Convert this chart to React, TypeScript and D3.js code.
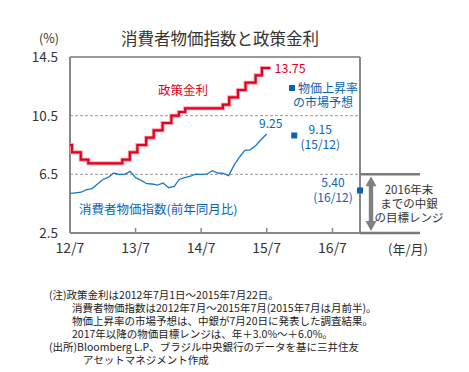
import React from "react";
import * as d3 from "d3";

const policyDates = ["2012-07-01","2012-07-12","2012-08-30","2012-10-11","2013-04-18","2013-05-30","2013-07-11","2013-08-29","2013-10-10","2013-11-28","2014-01-16","2014-02-27","2014-04-03","2014-10-30","2014-12-04","2015-01-22","2015-03-05","2015-04-30","2015-06-04","2015-07-22"];
const policyRates = [8.5,8.0,7.5,7.25,7.5,8.0,8.5,9.0,9.5,10.0,10.5,10.75,11.0,11.25,11.75,12.25,12.75,13.25,13.75,13.75];

const cpiStart = "2012-07-01";
const cpiValues = [5.20,5.24,5.28,5.45,5.53,5.84,6.15,6.31,6.59,6.49,6.50,6.70,6.27,6.09,5.86,5.84,5.77,5.91,5.59,5.68,6.15,6.28,6.37,6.52,6.50,6.51,6.75,6.59,6.56,6.41,7.14,7.70,8.13,8.17,8.47,8.89,9.25];

const forecastDates = ["2015-12-01","2016-12-01"];
const forecastValues = [9.15,5.40];
const forecastLabels = ["(15/12)","(16/12)"];

const yTicks = [2.5,6.5,10.5,14.5];
const xTickDates = ["2012-07-01","2013-07-01","2014-07-01","2015-07-01","2016-07-01"];
const xTickLabels = ["12/7","13/7","14/7","15/7","16/7"];
const targetRange = [2.5,6.5];

const notes = [
  "(注)政策金利は2012年7月1日～2015年7月22日。",
  "消費者物価指数は2012年7月～2015年7月(2015年7月は月前半)。",
  "物価上昇率の市場予想は、中銀が7月20日に発表した調査結果。",
  "2017年以降の物価目標レンジは、年＋3.0%～＋6.0%。",
  "(出所)Bloomberg L.P、ブラジル中央銀行のデータを基に三井住友",
  "アセットマネジメント作成",
];

const FONT = "'Noto Sans CJK JP', 'Noto Sans', sans-serif";
const RED = "#e60020";
const BLUE = "#1a78c8";
const DBLUE = "#0a62b4";
const GRAY = "#888";
const TXT = "#333";

export default function App() {
  const parse = d3.utcParse("%Y-%m-%d");
  const x = d3.scaleUtc().domain([parse("2012-07-01")!, parse("2016-12-01")!]).range([70, 360]);
  const y = d3.scaleLinear().domain([2.5, 14.5]).range([233, 57]);

  const policy = policyDates.map((d, i) => ({ d: parse(d)!, v: policyRates[i] }));
  const start = parse(cpiStart)!;
  const cpi = cpiValues.map((v, i) => ({ d: d3.utcMonth.offset(start, i), v }));

  const stepLine = d3.line<{ d: Date; v: number }>().x(p => x(p.d)).y(p => y(p.v)).curve(d3.curveStepAfter);
  const line = d3.line<{ d: Date; v: number }>().x(p => x(p.d)).y(p => y(p.v));

  const x0 = x.range()[0], x1 = x.range()[1];
  const yTop = y(14.5), yBot = y(2.5);
  const ext = 420;
  const ax = 371;
  const ya = y(targetRange[1]) + 2, yb = y(targetRange[0]) - 2;
  const arrow = `M${ax},${ya} L${ax + 5.5},${ya + 10} L${ax + 2.2},${ya + 10} L${ax + 2.2},${yb - 10} L${ax + 5.5},${yb - 10} L${ax},${yb} L${ax - 5.5},${yb - 10} L${ax - 2.2},${yb - 10} L${ax - 2.2},${ya + 10} L${ax - 5.5},${ya + 10} Z`;

  const lastPolicy = policy[policy.length - 1];
  const lastCpi = cpi[cpi.length - 1];

  return (
    <svg width={469} height={372} style={{ position: "absolute", left: 0, top: 0, background: "#fff" }} fontFamily={FONT}>
      <rect width={469} height={372} fill="#fff" />
      <text x={220} y={45} fontSize={16.5} fill={TXT} textAnchor="middle">消費者物価指数と政策金利</text>
      <text x={49} y={43} fontSize={12.5} fill={TXT} textAnchor="middle">(%)</text>

      {/* gridlines */}
      {[6.5, 10.5].map(t => (
        <line key={t} x1={x0} x2={x1} y1={y(t)} y2={y(t)} stroke="#999" strokeWidth={1} strokeDasharray="3,2" />
      ))}
      {/* frame */}
      <line x1={x0} x2={x1} y1={yTop} y2={yTop} stroke="#999" strokeWidth={2} />
      <line x1={x0} x2={x0} y1={yTop} y2={yBot} stroke={GRAY} strokeWidth={2} />
      <line x1={x1} x2={x1} y1={yTop} y2={yBot} stroke={GRAY} strokeWidth={2} />
      <line x1={x0} x2={x1} y1={yBot} y2={yBot} stroke={GRAY} strokeWidth={2} />
      {/* target range */}
      <line x1={x1} x2={ext} y1={y(targetRange[1])} y2={y(targetRange[1])} stroke="#7a7a7a" strokeWidth={2.5} />
      <line x1={x1} x2={ext} y1={y(targetRange[0])} y2={y(targetRange[0])} stroke="#7a7a7a" strokeWidth={2.5} />
      <path d={arrow} fill="#808080" />
      {["2016年末", "までの中銀", "の目標レンジ"].map((t, i) => (
        <text key={i} x={409} y={194 + i * 14} fontSize={11.5} fill={TXT} textAnchor="middle">{t}</text>
      ))}

      {/* y ticks */}
      {yTicks.map(t => (
        <text key={t} x={58} y={y(t) + 5} fontSize={13.5} fill={TXT} textAnchor="end">{t.toFixed(1)}</text>
      ))}
      {/* x ticks */}
      {xTickDates.map((d, i) => {
        const xx = x(parse(d)!);
        return (
          <g key={d}>
            {i > 0 && <line x1={xx} x2={xx} y1={yBot} y2={yBot - 5} stroke={GRAY} strokeWidth={1.5} />}
            <text x={xx} y={253} fontSize={14} fill={TXT} textAnchor="middle">{xTickLabels[i]}</text>
          </g>
        );
      })}
      <text x={408} y={254} fontSize={13} fill={TXT} textAnchor="middle">(年/月)</text>

      {/* policy rate */}
      <path d={stepLine(policy)!} fill="none" stroke="#f6a0a8" strokeWidth={4} />
      <path d={stepLine(policy)!} fill="none" stroke={RED} strokeWidth={2.2} />
      <text x={x(lastPolicy.d) + 4} y={y(lastPolicy.v) + 5} fontSize={12.5} fill={RED}>{lastPolicy.v.toFixed(2)}</text>
      <text x={158} y={95} fontSize={12.5} fill={RED}>政策金利</text>

      {/* CPI */}
      <path d={line(cpi)!} fill="none" stroke={BLUE} strokeWidth={1.3} />
      <text x={x(lastCpi.d) + 4} y={y(lastCpi.v) - 6} fontSize={12} fill={DBLUE} textAnchor="middle">{lastCpi.v.toFixed(2)}</text>
      <text x={79} y={214} fontSize={12.5} fill={DBLUE}>消費者物価指数(前年同月比)</text>

      {/* forecasts */}
      {forecastDates.map((d, i) => {
        const xx = x(parse(d)!), yy = y(forecastValues[i]);
        const lx = i === 0 ? xx + 26 : xx - 27;
        const ly = i === 0 ? yy : yy - 2;
        return (
          <g key={d}>
            <rect x={xx - 3} y={yy - 3} width={6} height={6} fill={DBLUE} />
            <text x={lx} y={ly - 1} fontSize={12} fill={DBLUE} textAnchor="middle">{forecastValues[i].toFixed(2)}</text>
            <text x={lx} y={ly + 14} fontSize={12} fill={DBLUE} textAnchor="middle">{forecastLabels[i]}</text>
          </g>
        );
      })}
      <rect x={289} y={85} width={6} height={6} fill={DBLUE} />
      <text x={298} y={93} fontSize={12} fill={DBLUE}>物価上昇率</text>
      <text x={293} y={107} fontSize={12} fill={DBLUE}>の市場予想</text>

      {/* notes */}
      {notes.map((t, i) => {
        const xs = [49, 72, 72, 72, 49, 83];
        const ys = [299, 312, 325, 338, 351, 364];
        return <text key={i} x={xs[i]} y={ys[i]} fontSize={10.5} fill="#222">{t}</text>;
      })}
    </svg>
  );
}
